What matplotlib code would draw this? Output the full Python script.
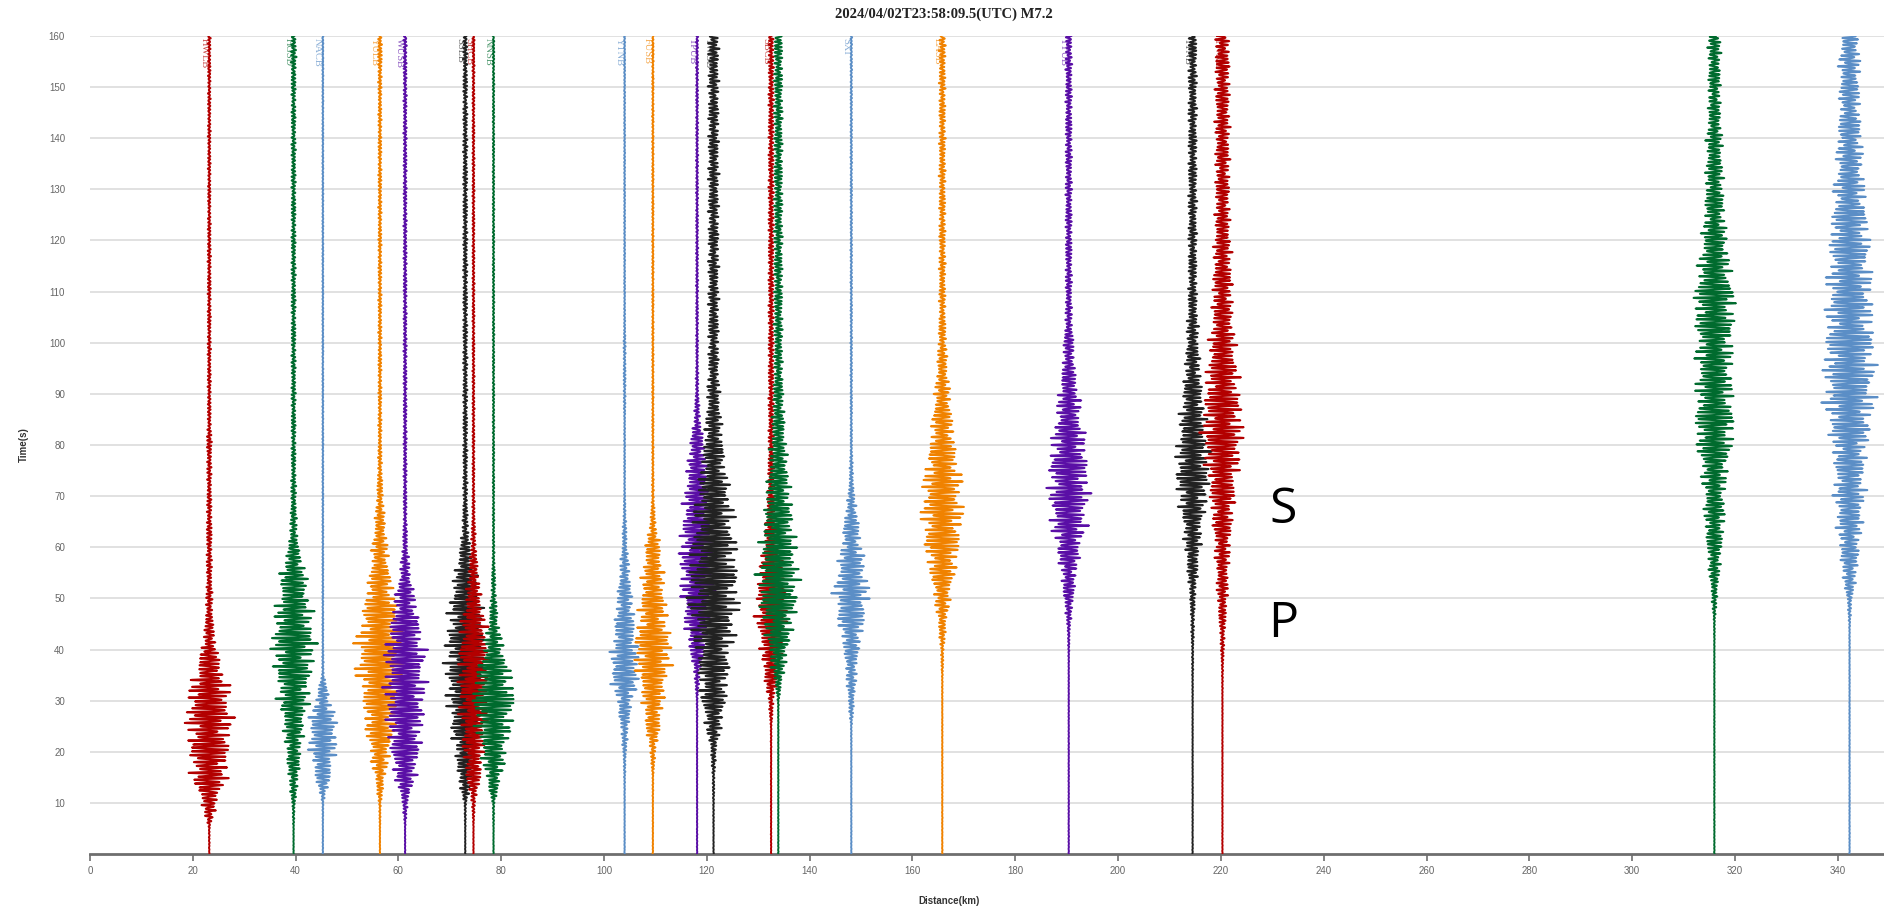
import numpy as np
import matplotlib
matplotlib.use("Agg")
import matplotlib.pyplot as plt

# ---------------- data ----------------
title = "2024/04/02T23:58:09.5(UTC) M7.2"
stations = ['HWLB', 'HGSD', 'NACB', 'YULB', 'WUSB', 'SSLB', 'SHCB', 'NNSB',
            'YTNB', 'FUSB', 'TPUB', 'TWGB', 'SBCB', '', 'SXI', 'EASB',
            'TYUB', 'TTNB', 'TWKB', '', '']
distances = [23.2, 39.6, 45.3, 56.4, 61.3, 73.0, 74.6, 78.5, 104.0, 109.5,
             118.1, 121.3, 132.5, 133.9, 148.1, 165.8, 190.4, 214.5, 220.3,
             316.0, 342.3]
palette = ['#b30000', '#006b2e', '#5b8ec6', '#f08200', '#5a0fa6', '#222222']

# envelope (half-width of the wiggle, km) read every 5 s from 0 to 160 s
env_time = list(range(0, 165, 5))
env_01 = [0.05, 0.1, 1.5, 3.5, 4.0, 4.5, 4.5, 3.0, 1.5, 0.8, 0.6,
          0.5, 0.5, 0.5, 0.4, 0.4, 0.5, 0.3, 0.3, 0.3, 0.3, 0.3,
          0.3, 0.3, 0.3, 0.25, 0.25, 0.25, 0.25, 0.25, 0.25, 0.25, 0.25]
env_02 = [0.05, 0.05, 0.3, 1.0, 1.5, 2.0, 3.0, 3.5, 4.5, 4.0, 3.0,
          2.5, 1.0, 0.6, 0.5, 0.4, 0.4, 0.4, 0.4, 0.4, 0.4, 0.4,
          0.4, 0.4, 0.4, 0.4, 0.4, 0.4, 0.4, 0.4, 0.4, 0.5, 0.5]
env_03 = [0.05, 0.05, 0.1, 1.5, 2.5, 3.0, 1.5, 0.2, 0.1, 0.1, 0.1] + [0.1] * 22
env_04 = [0.05, 0.05, 0.2, 1.0, 2.0, 3.0, 3.5, 4.5, 5.0, 4.0, 3.0,
          2.0, 1.5, 1.0, 0.6, 0.4, 0.3, 0.3, 0.3, 0.3, 0.3, 0.3,
          0.3, 0.3, 0.3, 0.3, 0.3, 0.3, 0.3, 0.3, 0.3, 0.4, 0.4]
env_05 = [0.05, 0.05, 0.5, 2.0, 3.0, 3.5, 4.0, 4.0, 4.0, 3.0, 2.0,
          1.0, 0.5] + [0.3] * 20
env_06 = [0.05, 0.05, 0.2, 1.5, 2.0, 3.0, 3.5, 4.0, 4.0, 3.5, 3.0,
          2.0, 1.0, 0.5] + [0.4] * 19
env_07 = [0.05, 0.05, 0.3, 1.5, 2.0, 2.5, 3.0, 3.0, 3.0, 2.5, 1.5,
          1.0, 0.5, 0.3] + [0.2] * 19
env_08 = [0.05, 0.05, 0.2, 1.5, 2.5, 3.5, 4.5, 3.5, 2.0, 1.0, 0.5,
          0.3] + [0.15] * 21
env_09 = [0.05, 0.05, 0.05, 0.1, 0.3, 0.8, 1.5, 3.0, 2.5, 2.0, 1.5,
          1.0, 0.5, 0.3, 0.1, 0.1, 0.1, 0.1, 0.2, 0.2, 0.2, 0.1] + [0.1] * 11
env_10 = [0.05, 0.05, 0.05, 0.1, 0.5, 1.5, 2.0, 3.0, 4.0, 3.0, 2.5,
          2.0, 1.5, 0.5, 0.2] + [0.15] * 18
env_11 = [0.05, 0.05, 0.05, 0.05, 0.05, 0.05, 0.1, 0.5, 1.5, 2.5, 3.0,
          3.5, 3.5, 3.0, 2.5, 2.0, 1.5, 0.6, 0.3, 0.2, 0.2, 0.2] + [0.2] * 11
env_12 = [0.05, 0.05, 0.1, 0.2, 0.5, 1.5, 2.5, 3.0, 3.5, 4.5, 5.0,
          5.0, 4.5, 4.0, 3.5, 2.5, 2.0, 1.5, 1.2, 1.0, 1.0, 1.0] + [1.0] * 11
env_13 = [0.05, 0.05, 0.05, 0.05, 0.05, 0.1, 0.5, 1.5, 2.0, 3.0, 3.0,
          2.5, 1.5, 1.0, 0.7, 0.6] + [0.5] * 17
env_14 = [0.05] * 6 + [0.1, 1.0, 2.0, 3.0, 4.0,
          4.0, 3.5, 3.0, 2.5, 2.0, 1.5, 1.2, 1.0, 0.8, 0.8, 0.8] + [0.8] * 11
env_15 = [0.05] * 5 + [0.1, 0.6, 1.0, 1.5, 2.5, 3.5,
          3.0, 2.0, 1.5, 0.6, 0.3] + [0.15] * 17
env_16 = [0.05] * 7 + [0.1, 0.3, 0.8, 1.5,
          2.5, 3.5, 4.0, 4.0, 3.5, 2.5, 2.0, 1.5, 1.0, 0.8, 0.6] + [0.6] * 11
env_17 = [0.05] * 8 + [0.1, 0.3, 1.0,
          1.5, 2.5, 3.5, 4.0, 4.0, 3.5, 2.5, 2.0, 1.2, 1.0, 0.6] + [0.6] * 11
env_18 = [0.05] * 7 + [0.1, 0.15, 0.3, 0.5,
          1.0, 1.5, 2.0, 3.0, 3.5, 3.0, 2.5, 2.0, 1.5, 1.2, 1.0] + [0.8] * 11
env_19 = [0.05] * 7 + [0.1, 0.3, 0.6, 1.0,
          1.2, 1.5, 2.0, 2.5, 3.0, 4.0, 4.0, 3.5, 3.0, 2.5, 2.0,
          2.0, 1.8, 1.6] + [1.4] * 8
env_20 = [0.05] * 9 + [0.1, 0.5,
          1.0, 1.5, 2.0, 2.0, 2.5, 3.5, 4.0, 3.5, 3.5, 3.5, 4.0,
          4.0, 3.0, 2.5, 2.0, 1.8, 1.6, 1.5, 1.2, 1.2, 1.2, 1.2]
env_21 = [0.05] * 9 + [0.1, 0.5,
          1.5, 2.0, 2.5, 3.0, 3.0, 3.5, 4.5, 5.0, 5.0, 5.0, 4.5,
          4.5, 4.0, 4.0, 3.5, 3.0, 2.5, 2.5, 2.0, 2.0, 2.0, 1.8]
envelopes = [env_01, env_02, env_03, env_04, env_05, env_06, env_07, env_08,
             env_09, env_10, env_11, env_12, env_13, env_14, env_15, env_16,
             env_17, env_18, env_19, env_20, env_21]

x_ticks = list(range(0, 341, 20))
y_ticks = list(range(10, 161, 10))

# ---------------- figure ----------------
W, H, DPI = 1884, 911, 100
fig = plt.figure(figsize=(W / DPI, H / DPI), dpi=DPI)
ax_left, ax_right = 90 / W, 1.0
ax_bottom, ax_top = 1 - 854 / H, 1 - 36 / H
ax = fig.add_axes([ax_left, ax_bottom, ax_right - ax_left, ax_top - ax_bottom])
ax.set_xlim(0, 349)
ax.set_ylim(0, 160)

for s in ['top', 'right', 'left']:
    ax.spines[s].set_visible(False)
ax.spines['bottom'].set_color('#6e6e6e')
ax.spines['bottom'].set_linewidth(2)

ax.set_yticks(y_ticks)
ax.set_yticklabels([str(v) for v in y_ticks], fontsize=7, color='#666666',
                   family='Liberation Sans')
ax.tick_params(axis='y', length=0, pad=18)
ax.set_xticks(x_ticks)
ax.set_xticklabels([str(v) for v in x_ticks], fontsize=7, color='#666666',
                   family='Liberation Sans')
ax.tick_params(axis='x', length=5, width=1.2, color='#6e6e6e', pad=4)
ax.grid(axis='y', color='#dedede', linewidth=1.3)
ax.set_axisbelow(True)

# wiggle traces: envelope, deterministic oscillating carrier
t = np.arange(0, 160.01, 0.04)
for i, (d, env) in enumerate(zip(distances, envelopes)):
    col = palette[i % len(palette)]
    e = np.interp(t, env_time, env)
    p = 1.7 * i + 0.3
    carrier = (0.70 * np.sin(2 * np.pi * 1.43 * t + p)
               + 0.20 * np.sin(2 * np.pi * 2.37 * t + 2.3 * p)
               + 0.15 * np.sin(2 * np.pi * 0.61 * t + 0.7 * p))
    beat = 0.72 + 0.28 * np.abs(np.sin(2 * np.pi * 0.083 * t + 0.9 * p))
    carrier = 1.15 * carrier * beat
    ax.plot(d + e * carrier, t, color=col, lw=1.4, zorder=3)
    if stations[i]:
        ax.text(d - 1.0, 159.6, stations[i], rotation=-90, ha='center', va='top',
                fontsize=7.5, color=col, alpha=0.7, family='Liberation Serif',
                zorder=2)

# phase annotations
ax.text(232.2, 67.2, 'S', fontsize=36, family='Open Sans', ha='center',
        va='center', color='black', zorder=4)
ax.text(232.2, 44.9, 'P', fontsize=36, family='Open Sans', ha='center',
        va='center', color='black', zorder=4)

fig.text(944 / W, 1 - 14 / H, title, ha='center', va='center', fontsize=10.5,
         fontweight='bold', family='Liberation Serif', color='#222222')
fig.text(949 / W, 1 - 901 / H, 'Distance(km)', ha='center', va='center',
         fontsize=7, fontweight='bold', family='Liberation Sans', color='#333333')
fig.text(24 / W, 1 - 445 / H, 'Time(s)', ha='center', va='center', rotation=90,
         fontsize=7, fontweight='bold', family='Liberation Sans', color='#333333')

fig.savefig('out.png', dpi=DPI, facecolor='white')
